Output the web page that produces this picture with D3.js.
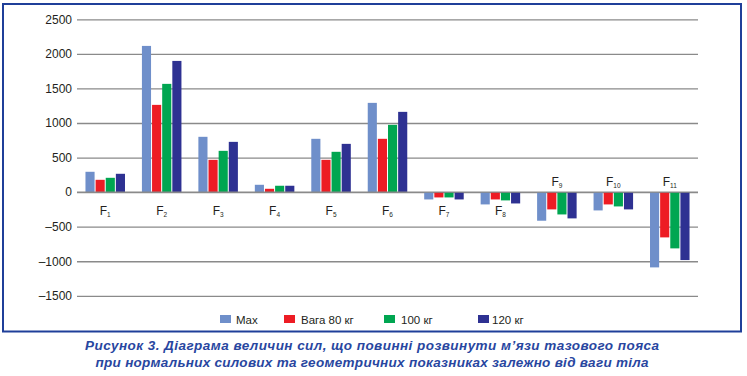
<!DOCTYPE html>
<html><head><meta charset="utf-8">
<script src="https://cdn.jsdelivr.net/npm/d3@7"></script>
<style>
html,body{margin:0;padding:0;background:#fff;}
svg{display:block;font-family:"Liberation Sans",Arial,sans-serif;}
</style></head>
<body>
<svg id="c" width="747" height="376"></svg>
<script>
const categories = ["1","2","3","4","5","6","7","8","9","10","11"];
const seriesNames = ["Max","Вага 80 кг","100 кг","120 кг"];
const maxVals   = [294, 2115, 800, 106, 771, 1291, -106, -178, -414, -265, -1089];
const w80Vals   = [178, 1262, 467, 48, 467, 771, -77, -106, -250, -178, -655];
const w100Vals  = [207, 1566, 597, 92, 583, 973, -77, -120, -323, -207, -814];
const w120Vals  = [265, 1898, 727, 92, 698, 1161, -106, -164, -380, -250, -983];
const labelAbove = [false,false,false,false,false,false,false,false,true,true,true];
const yTicks = [2500, 2000, 1500, 1000, 500, 0, -500, -1000, -1500];
const colors = ["#6f8fca","#ed1c24","#00a651","#2e3192"];
const captionLines = [
  "Рисунок 3. Діаграма величин сил, що повинні розвинути м’язи тазового пояса",
  "при нормальних силових та геометричних показниках залежно від ваги тіла"
];

const series = [maxVals, w80Vals, w100Vals, w120Vals];
const svg = d3.select("#c");

// frame
svg.append("rect").attr("x",3).attr("y",4).attr("width",738).attr("height",327.5)
  .attr("fill","none").attr("stroke","#1f3f99").attr("stroke-width",2);

const y = d3.scaleLinear().domain([-1500,2500]).range([295.8,19.3]);
const x0 = d3.scaleBand().domain(categories).range([77,698]).paddingInner(0.3).paddingOuter(0.15);
const x1 = d3.scaleBand().domain(d3.range(4)).range([0,x0.bandwidth()]).paddingInner(0.1);

// grid
const yAxis = d3.axisLeft(y).tickValues(yTicks).tickSize(-(698-77)).tickPadding(5)
  .tickFormat(d => d < 0 ? "–" + Math.abs(d) : String(d));
const ga = svg.append("g").attr("transform","translate(77,0)").call(yAxis);
ga.select(".domain").remove();
ga.selectAll(".tick line").attr("stroke","#8a8a8a").attr("stroke-width",1.3);
ga.selectAll(".tick text").attr("font-size",12).attr("fill","#231f20")
  .attr("font-family","Liberation Sans, Arial, sans-serif").attr("x",-5);

// bars
const groups = svg.append("g").selectAll("g").data(categories).join("g")
  .attr("transform", c => `translate(${x0(c)},0)`);
groups.selectAll("rect").data((c,i) => series.map((s,k) => ({k, v:s[i]}))).join("rect")
  .attr("x", d => x1(d.k))
  .attr("width", x1.bandwidth())
  .attr("y", d => y(Math.max(0,d.v)))
  .attr("height", d => Math.abs(y(d.v)-y(0)))
  .attr("fill", d => colors[d.k]);

// redraw zero line on top
svg.append("line").attr("x1",77).attr("x2",698).attr("y1",y(0)).attr("y2",y(0))
  .attr("stroke","#8a8a8a").attr("stroke-width",1.3);

// category labels
const lab = svg.append("g").selectAll("text").data(categories).join("text")
  .attr("x", c => x0(c) + x0.bandwidth()/2)
  .attr("y", (c,i) => labelAbove[i] ? y(0) - 6 : y(0) + 23)
  .attr("text-anchor","middle").attr("fill","#231f20").attr("font-size",12);
lab.append("tspan").text("F");
lab.append("tspan").attr("font-size",6.5).attr("dy",2).text(c => c);

// legend
const legX = [220, 284, 384, 478];
const leg = svg.append("g").selectAll("g").data(seriesNames).join("g")
  .attr("transform",(d,i)=>`translate(${legX[i]},315)`);
leg.append("rect").attr("width",11).attr("height",8).attr("fill",(d,i)=>colors[i]);
leg.append("text").attr("x",(d,i)=> i===0?16:(i===3?14:17)).attr("y",8.5).attr("font-size",11.5)
  .attr("fill","#231f20").text(d=>d);

// caption
svg.append("g").selectAll("text").data(captionLines).join("text")
  .attr("x",372).attr("y",(d,i)=> 350 + i*16.5)
  .attr("text-anchor","middle")
  .attr("font-size",13.5).attr("font-weight","bold").attr("font-style","italic")
  .attr("fill","#2846a0")
  .attr("textLength",(d,i)=> i===0 ? 574 : 553).attr("lengthAdjust","spacing")
  .text(d=>d);
</script>
</body></html>
